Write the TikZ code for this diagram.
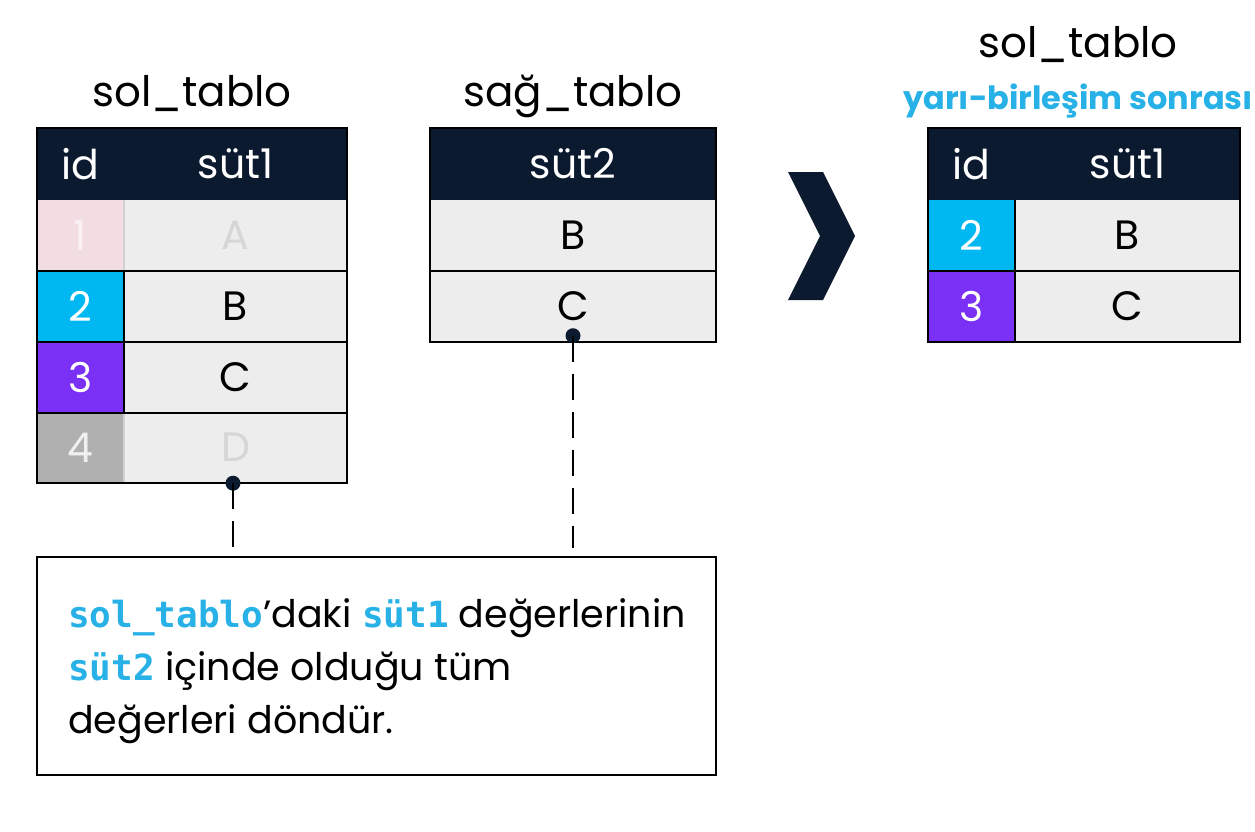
\documentclass[tikz,border=0pt]{standalone}
\usepackage{fontspec}
\setmainfont{Poppins}
\newfontfamily\codefont{DejaVu Sans Mono}
\usetikzlibrary{calc}
\definecolor{navy}{HTML}{0B1A2E}
\definecolor{cellgray}{HTML}{EDEDED}
\definecolor{cyanid}{HTML}{00B8F1}
\definecolor{purpleid}{HTML}{7A30F5}
\definecolor{pinkid}{HTML}{F2DDE2}
\definecolor{grayid}{HTML}{B0B0B0}
\definecolor{bluetxt}{HTML}{27B1E6}
\definecolor{fadetxt}{HTML}{D6D6D6}
\newcommand{\cellfnt}{\fontsize{41}{41}\selectfont}
\newcommand{\code}[1]{{\codefont\bfseries\fontsize{36}{36}\selectfont\color{bluetxt}#1}}
\begin{document}
\begin{tikzpicture}[x=1pt,y=-1pt,
  hdr/.style={fill=navy, text=white, minimum height=72pt, inner sep=0pt, font=\cellfnt},
  cellv/.style={fill=cellgray, minimum height=71pt, inner sep=0pt, font=\cellfnt},
  border/.style={draw=black, line width=2.2pt},
  title/.style={anchor=base, inner sep=0pt, font=\fontsize{42}{42}\selectfont},
  dotnode/.style={circle, fill=navy, minimum size=15pt, inner sep=0pt},
  dashline/.style={draw=black, line width=2.2pt, dash pattern=on 26pt off 12pt},
  txt/.style={anchor=base west, inner sep=0pt, font=\fontsize{38}{38}\selectfont}
]
\useasboundingbox (0,0) rectangle (1255,832);
\fill[white] (0,0) rectangle (1255,832);

% ---------- left table ----------
\node[title] (t1) at (192,107) {sol\_tablo};
\node[hdr, minimum width=310pt] (lh) at (192,164) {};
\node[font=\cellfnt, text=white] (lhid) at (80.5,164) {id};
\node[font=\cellfnt, text=white] (lhs) at (235.5,164) {süt1};
\node[cellv, fill=pinkid, text=pinkid!40!white, minimum width=87pt] (l1i) at (80.5,235.5) {1};
\node[cellv, text=fadetxt, minimum width=223pt] (l1v) at (235.5,235.5) {A};
\node[cellv, fill=cyanid, text=white, minimum width=87pt] (l2i) at (80.5,306) {2};
\node[cellv, minimum width=223pt] (l2v) at (235.5,306) {B};
\node[cellv, fill=purpleid, text=white, minimum width=87pt] (l3i) at (80.5,377) {3};
\node[cellv, minimum width=223pt] (l3v) at (235.5,377) {C};
\node[cellv, fill=grayid, text=white!88!gray, minimum width=87pt] (l4i) at (80.5,447.5) {4};
\node[cellv, text=fadetxt, minimum width=223pt] (l4v) at (235.5,447.5) {D};
\draw[draw=black!18, line width=1.5pt] (l1i.north east) -- (l1i.south east);
\draw[draw=black!18, line width=1.5pt] (l4i.north east) -- (l4i.south east);
\draw[border] (l1i.south west) -- (l1v.south east);
\draw[border] (l2i.south west) -- (l2v.south east);
\draw[border] (l3i.south west) -- (l3v.south east);
\draw[border] (l2i.north east) -- (l3i.south east);
\draw[border] (lh.north west) rectangle (l4v.south east);

% ---------- middle table ----------
\node[title] (t2) at (573,107) {sağ\_tablo};
\node[hdr, minimum width=286pt] (mh) at (573,164) {süt2};
\node[cellv, minimum width=286pt] (m1) at (573,235.5) {B};
\node[cellv, minimum width=286pt] (m2) at (573,306) {C};
\draw[border] (m1.south west) -- (m1.south east);
\draw[border] (mh.north west) rectangle (m2.south east);

% ---------- chevron ----------
\fill[navy] (788,172) -- (823,172) -- (855,236) -- (823,300) -- (788,300) -- (820,236) -- cycle;

% ---------- right table ----------
\node[title] (t3) at (1078,58) {sol\_tablo};
\node[anchor=base, inner sep=0pt, text=bluetxt, font=\fontsize{32}{32}\selectfont\bfseries] (t3s) at (1078,110) {yarı-birleşim sonrası};
\node[hdr, minimum width=312pt] (rh) at (1084,164) {};
\node[font=\cellfnt, text=white] (rhid) at (971.5,164) {id};
\node[font=\cellfnt, text=white] (rhs) at (1127.5,164) {süt1};
\node[cellv, fill=cyanid, text=white, minimum width=87pt] (r1i) at (971.5,235.5) {2};
\node[cellv, minimum width=225pt] (r1v) at (1127.5,235.5) {B};
\node[cellv, fill=purpleid, text=white, minimum width=87pt] (r2i) at (971.5,306) {3};
\node[cellv, minimum width=225pt] (r2v) at (1127.5,306) {C};
\draw[border] (r1i.south west) -- (r1v.south east);
\draw[border] (r1i.north east) -- (r2i.south east);
\draw[border] (rh.north west) rectangle (r2v.south east);

% ---------- text box ----------
\node[draw=black, line width=2.2pt, minimum width=679pt, minimum height=218pt, inner sep=0pt] (box) at (376.5,666) {};
\node[txt] (x1) at (68,627) {\code{sol\_tablo}’daki \code{süt1} değerlerinin};
\node[txt] (x2) at (68,680) {\code{süt2} içinde olduğu tüm};
\node[txt] (x3) at (68,733) {değerleri döndür.};

% ---------- connectors ----------
\node[dotnode] (d1) at (l4v.south -| 233,0) {};
\node[dotnode] (d2) at ($(m2.south)+(0,-6)$) {};
\coordinate (e1) at ($(d1 |- box.north)+(0,-8)$);
\coordinate (e2) at ($(d2 |- box.north)+(0,-8)$);
\draw[dashline] (d1.center) -- (e1);
\draw[dashline] (d2.center) -- (e2);
\end{tikzpicture}
\end{document}
